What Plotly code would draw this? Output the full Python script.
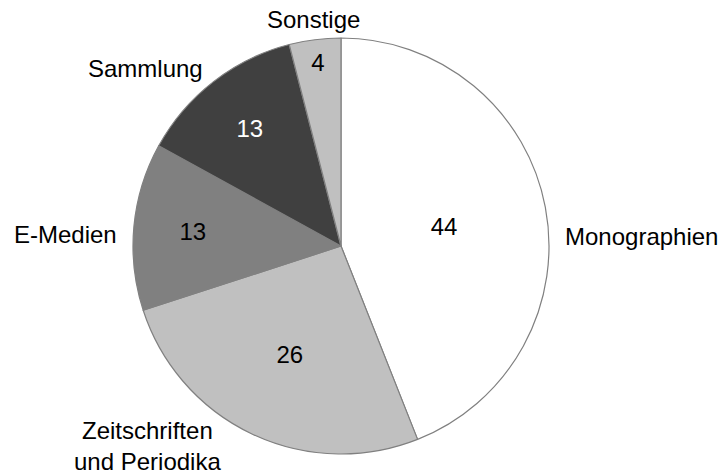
import plotly.graph_objects as go

categories = ["Monographien", "Zeitschriften<br>und Periodika", "E-Medien", "Sammlung", "Sonstige"]
values = [44, 26, 13, 13, 4]
colors = ["#ffffff", "#c0c0c0", "#808080", "#404040", "#c0c0c0"]
text_colors = ["#000000", "#000000", "#000000", "#ffffff", "#000000"]

W, H = 721, 472
cx, cy, r = 341, 246, 208
dom_x = [(cx - r) / W, (cx + r) / W]
dom_y = [(H - cy - r) / H, (H - cy + r) / H]

# outside category label positions (pixel centres)
label_pos = [(641, 236), (147, 446), (65, 234), (145, 69), (313, 19)]

font = "Liberation Sans, Arial, sans-serif"

fig = go.Figure()
fig.add_trace(go.Pie(
    labels=categories, values=values, sort=False, direction="clockwise", rotation=0,
    marker=dict(colors=colors, line=dict(color="#808080", width=1.2)),
    textinfo="value", textposition="inside", insidetextorientation="horizontal",
    textfont=dict(family=font, size=24, color=text_colors),
    domain=dict(x=dom_x, y=dom_y), showlegend=False, hoverinfo="label+value",
))
for lab, (px, py) in zip(categories, label_pos):
    fig.add_annotation(text=lab, x=px / W, y=1 - py / H, xref="paper", yref="paper",
                       xanchor="center", yanchor="middle", showarrow=False,
                       font=dict(family=font, size=24, color="#000000"), align="center")
fig.update_layout(
    width=W, height=H, margin=dict(l=0, r=0, t=0, b=0),
    paper_bgcolor="#ffffff", plot_bgcolor="#ffffff",
    font=dict(family=font, size=24),
)
fig.write_html("out.html", config={"displayModeBar": False},
               post_script="document.body.style.margin='0';document.body.style.overflow='hidden';")
